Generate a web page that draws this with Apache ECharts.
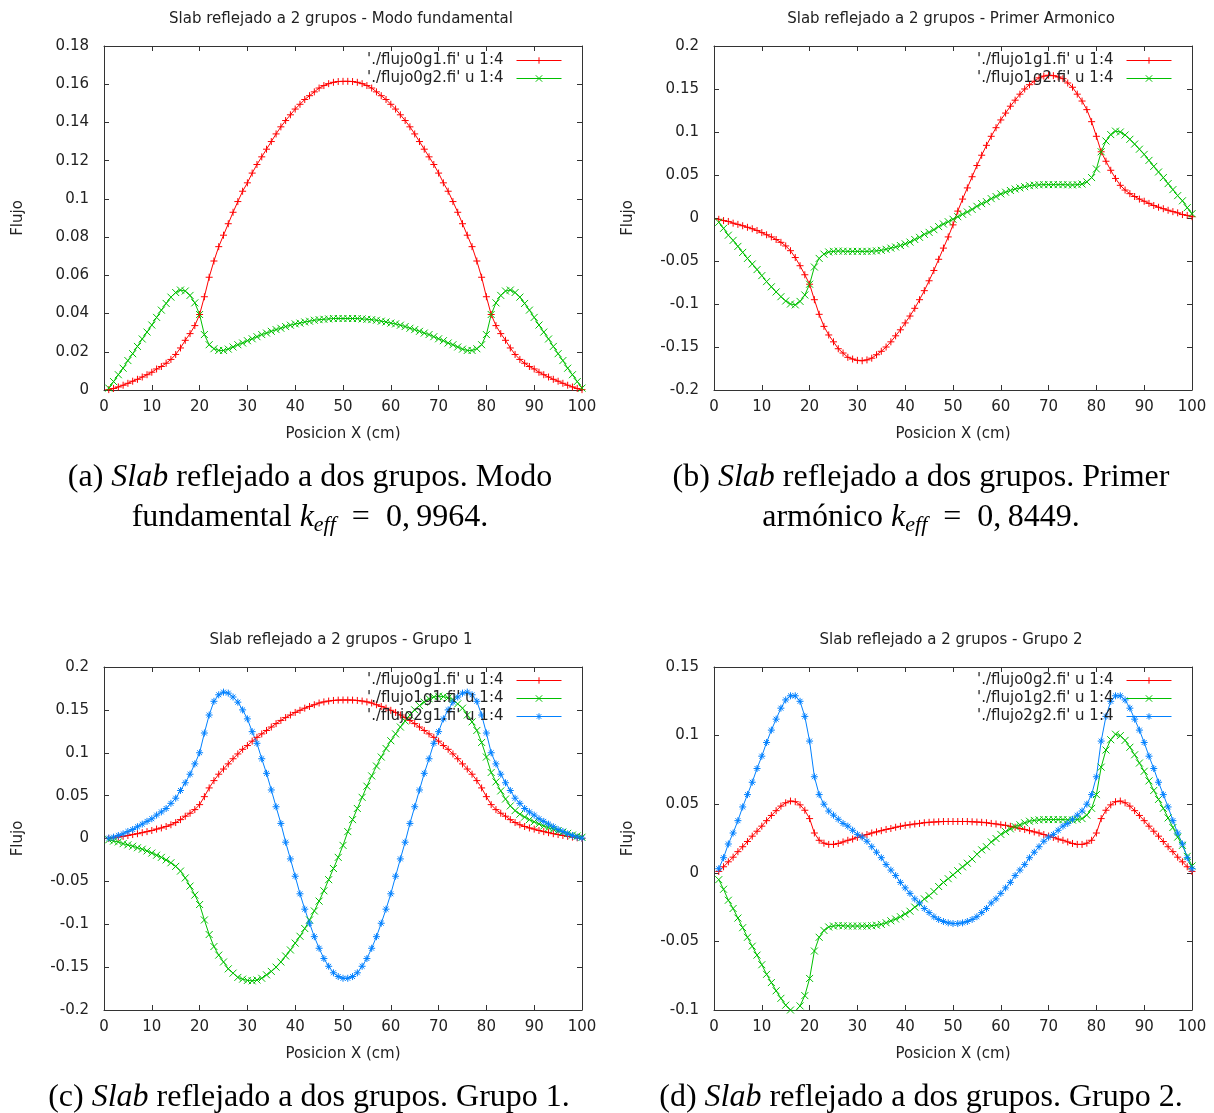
<!DOCTYPE html>
<html>
<head>
<meta charset="utf-8">
<title>Slab reflejado a 2 grupos</title>
<script src="https://cdn.jsdelivr.net/npm/echarts@6/dist/echarts.min.js"></script>
<style>
html, body { margin: 0; padding: 0; background: #fff; }
#main { width: 1214px; height: 1113px; }
</style>
</head>
<body>
<div id="main"></div>
<script>
// posicion de cada punto (cm)
var posX = [1,2,3,4,5,6,7,8,9,10,11,12,13,14,15,16,17,18,19,20,
	21,22,23,24,25,26,27,28,29,30,31,32,33,34,35,36,37,38,39,40,
	41,42,43,44,45,46,47,48,49,50,51,52,53,54,55,56,57,58,59,60,
	61,62,63,64,65,66,67,68,69,70,71,72,73,74,75,76,77,78,79,80,
	81,82,83,84,85,86,87,88,89,90,91,92,93,94,95,96,97,98,99,100];

// flujos (columna 4)
var flujo0g1 = [0.0002,0.0008,0.0016,0.0025,0.0035,0.0046,0.0056,0.0068,0.0080,0.0093,
	0.0110,0.0123,0.0140,0.0160,0.0186,0.0220,0.0260,0.0295,0.0337,0.0395,
	0.0488,0.0590,0.0675,0.0750,0.0810,0.0870,0.0930,0.0986,0.1040,0.1084,
	0.1135,0.1180,0.1220,0.1260,0.1300,0.1340,0.1377,0.1410,0.1440,0.1470,
	0.1495,0.1520,0.1540,0.1560,0.1580,0.1593,0.1603,0.1610,0.1614,0.1615,
	0.1615,0.1614,0.1610,0.1603,0.1593,0.1580,0.1560,0.1540,0.1520,0.1495,
	0.1470,0.1440,0.1410,0.1377,0.1340,0.1300,0.1260,0.1220,0.1180,0.1135,
	0.1084,0.1040,0.0986,0.0930,0.0870,0.0810,0.0750,0.0675,0.0590,0.0488,
	0.0395,0.0337,0.0295,0.0260,0.0220,0.0186,0.0160,0.0140,0.0123,0.0110,
	0.0093,0.0080,0.0068,0.0056,0.0046,0.0035,0.0025,0.0016,0.0008,0.0002];

var flujo0g2 = [0.0010,0.0044,0.0080,0.0114,0.0154,0.0190,0.0228,0.0267,0.0303,0.0340,
	0.0380,0.0418,0.0453,0.0486,0.0510,0.0523,0.0518,0.0495,0.0456,0.0395,
	0.0290,0.0237,0.0216,0.0207,0.0207,0.0214,0.0225,0.0237,0.0246,0.0258,
	0.0268,0.0279,0.0290,0.0298,0.0307,0.0316,0.0323,0.0332,0.0339,0.0346,
	0.0350,0.0356,0.0360,0.0365,0.0368,0.0370,0.0372,0.0374,0.0374,0.0374,
	0.0374,0.0374,0.0374,0.0372,0.0370,0.0368,0.0365,0.0360,0.0356,0.0350,
	0.0346,0.0339,0.0332,0.0323,0.0316,0.0307,0.0298,0.0290,0.0279,0.0268,
	0.0258,0.0246,0.0237,0.0225,0.0214,0.0207,0.0207,0.0216,0.0237,0.0290,
	0.0395,0.0456,0.0495,0.0518,0.0523,0.0510,0.0486,0.0453,0.0418,0.0380,
	0.0340,0.0303,0.0267,0.0228,0.0190,0.0154,0.0114,0.0080,0.0044,0.0010];

var flujo1g1 = [-0.0015,-0.0030,-0.0040,-0.0060,-0.0074,-0.0090,-0.0108,-0.0125,-0.0145,-0.0170,
	-0.0195,-0.0220,-0.0250,-0.0283,-0.0325,-0.0380,-0.0460,-0.0555,-0.0660,-0.0770,
	-0.0950,-0.1120,-0.1260,-0.1360,-0.1440,-0.1520,-0.1570,-0.1620,-0.1640,-0.1655,
	-0.1660,-0.1650,-0.1630,-0.1590,-0.1550,-0.1500,-0.1440,-0.1370,-0.1300,-0.1220,
	-0.1140,-0.1050,-0.0950,-0.0845,-0.0730,-0.0610,-0.0480,-0.0350,-0.0220,-0.0080,
	0.0080,0.0220,0.0350,0.0480,0.0610,0.0730,0.0845,0.0950,0.1050,0.1140,
	0.1220,0.1300,0.1370,0.1440,0.1500,0.1550,0.1590,0.1630,0.1650,0.1660,
	0.1655,0.1640,0.1620,0.1570,0.1520,0.1440,0.1360,0.1260,0.1120,0.0950,
	0.0770,0.0660,0.0555,0.0460,0.0380,0.0325,0.0283,0.0250,0.0220,0.0195,
	0.0170,0.0145,0.0125,0.0108,0.0090,0.0074,0.0060,0.0040,0.0030,0.0015];

var flujo1g2 = [-0.0050,-0.0120,-0.0200,-0.0260,-0.0330,-0.0400,-0.0470,-0.0535,-0.0600,-0.0670,
	-0.0740,-0.0800,-0.0860,-0.0915,-0.0965,-0.1000,-0.1010,-0.0970,-0.0895,-0.0770,
	-0.0570,-0.0470,-0.0420,-0.0395,-0.0388,-0.0384,-0.0386,-0.0388,-0.0388,-0.0388,
	-0.0388,-0.0388,-0.0386,-0.0382,-0.0376,-0.0364,-0.0350,-0.0337,-0.0320,-0.0300,
	-0.0280,-0.0250,-0.0225,-0.0190,-0.0167,-0.0136,-0.0100,-0.0070,-0.0043,-0.0015,
	0.0015,0.0043,0.0070,0.0100,0.0136,0.0167,0.0190,0.0225,0.0250,0.0280,
	0.0300,0.0320,0.0337,0.0350,0.0364,0.0376,0.0382,0.0386,0.0388,0.0388,
	0.0388,0.0388,0.0388,0.0386,0.0384,0.0388,0.0395,0.0420,0.0470,0.0570,
	0.0770,0.0895,0.0970,0.1010,0.1000,0.0965,0.0915,0.0860,0.0800,0.0740,
	0.0670,0.0600,0.0535,0.0470,0.0400,0.0330,0.0260,0.0200,0.0120,0.0050];

var flujo2g1 = [0.0005,0.0016,0.0035,0.0055,0.0082,0.0105,0.0137,0.0168,0.0200,0.0230,
	0.0273,0.0310,0.0350,0.0410,0.0470,0.0560,0.0650,0.0750,0.0870,0.1000,
	0.1230,0.1440,0.1600,0.1676,0.1707,0.1695,0.1650,0.1590,0.1500,0.1395,
	0.1246,0.1110,0.0930,0.0760,0.0566,0.0370,0.0176,-0.0043,-0.0238,-0.0440,
	-0.0645,-0.0824,-0.0988,-0.1145,-0.1280,-0.1400,-0.1490,-0.1566,-0.1610,-0.1630,
	-0.1630,-0.1610,-0.1566,-0.1490,-0.1400,-0.1280,-0.1145,-0.0988,-0.0824,-0.0645,
	-0.0440,-0.0238,-0.0043,0.0176,0.0370,0.0566,0.0760,0.0930,0.1110,0.1246,
	0.1395,0.1500,0.1590,0.1650,0.1695,0.1707,0.1676,0.1600,0.1440,0.1230,
	0.1000,0.0870,0.0750,0.0650,0.0560,0.0470,0.0410,0.0350,0.0310,0.0273,
	0.0230,0.0200,0.0168,0.0137,0.0105,0.0082,0.0055,0.0035,0.0016,0.0005];

var flujo2g2 = [0.0030,0.0110,0.0210,0.0290,0.0380,0.0480,0.0570,0.0660,0.0760,0.0850,
	0.0950,0.1040,0.1120,0.1200,0.1260,0.1290,0.1290,0.1250,0.1140,0.0960,
	0.0700,0.0570,0.0500,0.0450,0.0420,0.0390,0.0360,0.0340,0.0310,0.0280,
	0.0260,0.0230,0.0190,0.0150,0.0110,0.0060,0.0020,-0.0020,-0.0070,-0.0110,
	-0.0150,-0.0190,-0.0220,-0.0260,-0.0290,-0.0320,-0.0340,-0.0355,-0.0365,-0.0370,
	-0.0370,-0.0365,-0.0355,-0.0340,-0.0320,-0.0290,-0.0260,-0.0220,-0.0190,-0.0150,
	-0.0110,-0.0070,-0.0020,0.0020,0.0060,0.0110,0.0150,0.0190,0.0230,0.0260,
	0.0280,0.0310,0.0340,0.0360,0.0390,0.0420,0.0450,0.0500,0.0570,0.0700,
	0.0960,0.1140,0.1250,0.1290,0.1290,0.1260,0.1200,0.1120,0.1040,0.0950,
	0.0850,0.0760,0.0660,0.0570,0.0480,0.0380,0.0290,0.0210,0.0110,0.0030];

// rangos del eje Y: [min, max, intervalo]
var yRangoA = [0, 0.18, 0.02];
var yRangoB = [-0.2, 0.2, 0.05];
var yRangoC = [-0.2, 0.2, 0.05];
var yRangoD = [-0.1, 0.15, 0.05];

var titulos = ['Slab reflejado a 2 grupos - Modo fundamental',
	'Slab reflejado a 2 grupos - Primer Armonico',
	'Slab reflejado a 2 grupos - Grupo 1',
	'Slab reflejado a 2 grupos - Grupo 2'];

var ROJO = '#ff0000', VERDE = '#00c000', AZUL = '#0080ff';
var mPlus = 'path://M0,5L10,5M5,0L5,10';
var mCruz = 'path://M0,0L10,10M10,0L0,10';
var mEstrella = 'path://M0,5L10,5M5,0L5,10M1.5,1.5L8.5,8.5M8.5,1.5L1.5,8.5';

// cajas de cada grafica: left, top, width, height
var cajas = [[104, 46, 478, 344], [714, 46, 478, 344], [104, 667, 478, 343], [714, 667, 478, 343]];

function pares(ys){
	var res = [];
	for (var i = 0; i < posX.length; i++) {
		res.push([posX[i], ys[i]]);
	}
	return res;
}

function fmtY(v){
	return String(parseFloat(v.toFixed(4)));
}

var grids = [], xAxes = [], yAxes = [], series = [], legends = [], graficos = [];
var ejeColor = '#333', txtColor = '#222', FS = 15;

function montarEjes(g, rango){
	var c = cajas[g];
	grids.push({left: c[0], top: c[1], width: c[2], height: c[3], outerBoundsMode: 'none'});
	var tick = {inside: true, length: 5, lineStyle: {color: ejeColor, width: 1}};
	var linea = {show: true, onZero: false, lineStyle: {color: ejeColor, width: 1}};
	xAxes.push({gridIndex: g, type: 'value', position: 'bottom', min: 0, max: 100, interval: 10,
		axisLine: linea, axisTick: tick, splitLine: {show: false},
		axisLabel: {fontSize: FS, color: txtColor, margin: 10},
		name: 'Posicion X (cm)', nameLocation: 'middle', nameGap: 37,
		nameTextStyle: {fontSize: FS, color: txtColor}});
	xAxes.push({gridIndex: g, type: 'value', position: 'top', min: 0, max: 100, interval: 10,
		axisLine: linea, axisTick: tick, splitLine: {show: false}, axisLabel: {show: false}});
	yAxes.push({gridIndex: g, type: 'value', position: 'left', min: rango[0], max: rango[1], interval: rango[2],
		axisLine: linea, axisTick: tick, splitLine: {show: false},
		axisLabel: {fontSize: FS, color: txtColor, margin: 15, formatter: fmtY},
		name: 'Flujo', nameLocation: 'middle', nameGap: 78, nameRotate: 90,
		nameTextStyle: {fontSize: FS, color: txtColor}});
	yAxes.push({gridIndex: g, type: 'value', position: 'right', min: rango[0], max: rango[1], interval: rango[2],
		axisLine: linea, axisTick: tick, splitLine: {show: false}, axisLabel: {show: false}});
	graficos.push({type: 'text', x: c[0] + c[2] / 2 - 2, y: c[1] - 27,
		style: {text: titulos[g], font: FS + 'px "DejaVu Sans"', fill: txtColor, align: 'center', verticalAlign: 'middle'}});
}

function serie(g, nombre, ys, color, marca){
	series.push({
		type: 'line', name: nombre, xAxisIndex: g * 2, yAxisIndex: g * 2,
		data: pares(ys), symbol: marca, symbolSize: 7, showAllSymbol: true,
		lineStyle: {width: 1, color: color},
		itemStyle: {color: color, borderColor: color, borderWidth: 1},
		emphasis: {disabled: true}
	});
	// entrada de leyenda con su propio color
	return {name: nombre,
		itemStyle: {color: color, borderColor: color, borderWidth: 1},
		lineStyle: {color: color, width: 1}};
}

function leyenda(g, items, dy){
	var c = cajas[g];
	legends.push({
		orient: 'vertical', right: 1214 - (c[0] + c[2]) + 15, top: c[1] + dy,
		align: 'right', itemWidth: 45, itemHeight: 8, itemGap: 3, selectedMode: false,
		textStyle: {fontSize: FS, color: txtColor, lineHeight: 15, padding: [0, 8, 0, 0]},
		data: items
	});
}

// (a) modo fundamental
montarEjes(0, yRangoA);
leyenda(0, [serie(0, "'./flujo0g1.fi' u 1:4", flujo0g1, ROJO, mPlus),
	serie(0, "'./flujo0g2.fi' u 1:4", flujo0g2, VERDE, mCruz)], 2);
// (b) primer armonico
montarEjes(1, yRangoB);
leyenda(1, [serie(1, "'./flujo1g1.fi' u 1:4", flujo1g1, ROJO, mPlus),
	serie(1, "'./flujo1g2.fi' u 1:4", flujo1g2, VERDE, mCruz)], 2);
// (c) grupo 1  (nombres con \u200b para no mezclar leyendas)
montarEjes(2, yRangoC);
leyenda(2, [serie(2, "'./flujo0g1.fi' u 1:4\u200b", flujo0g1, ROJO, mPlus),
	serie(2, "'./flujo1g1.fi' u 1:4\u200b", flujo1g1, VERDE, mCruz),
	serie(2, "'./flujo2g1.fi' u 1:4\u200b", flujo2g1, AZUL, mEstrella)], 1);
// (d) grupo 2
montarEjes(3, yRangoD);
leyenda(3, [serie(3, "'./flujo0g2.fi' u 1:4\u200b\u200b", flujo0g2, ROJO, mPlus),
	serie(3, "'./flujo1g2.fi' u 1:4\u200b\u200b", flujo1g2, VERDE, mCruz),
	serie(3, "'./flujo2g2.fi' u 1:4\u200b", flujo2g2, AZUL, mEstrella)], 1);

// pies de figura
var serif = '"Liberation Serif", "Times New Roman", serif';
var ricoPie = {
	n: {fontFamily: serif, fontSize: 32, fill: '#000'},
	i: {fontFamily: serif, fontSize: 32, fontStyle: 'italic', fill: '#000'},
	s: {fontFamily: serif, fontSize: 22, fontStyle: 'italic', fill: '#000', padding: [14, 0, 0, 0]}
};
function pie(x, y, texto){
	graficos.push({type: 'text', x: x, y: y,
		style: {text: texto, rich: ricoPie, align: 'center', verticalAlign: 'middle'}});
}
pie(310, 478, '{n|(a) }{i|Slab}{n| reflejado a dos grupos. Modo}');
pie(310, 518, '{n|fundamental }{i|k}{s|eff}{n|\u2002=\u20020,\u20099964.}');
pie(921, 478, '{n|(b) }{i|Slab}{n| reflejado a dos grupos. Primer}');
pie(921, 518, '{n|armónico }{i|k}{s|eff}{n|\u2002=\u20020,\u20098449.}');
pie(309, 1098, '{n|(c) }{i|Slab}{n| reflejado a dos grupos. Grupo 1.}');
pie(921, 1098, '{n|(d) }{i|Slab}{n| reflejado a dos grupos. Grupo 2.}');

var myChart = echarts.init(document.getElementById('main'));
var option = {
	animation: false,
	textStyle: {fontFamily: 'DejaVu Sans'},
	grid: grids,
	xAxis: xAxes,
	yAxis: yAxes,
	legend: legends,
	series: series,
	graphic: graficos
};
myChart.setOption(option);
</script>
</body>
</html>
